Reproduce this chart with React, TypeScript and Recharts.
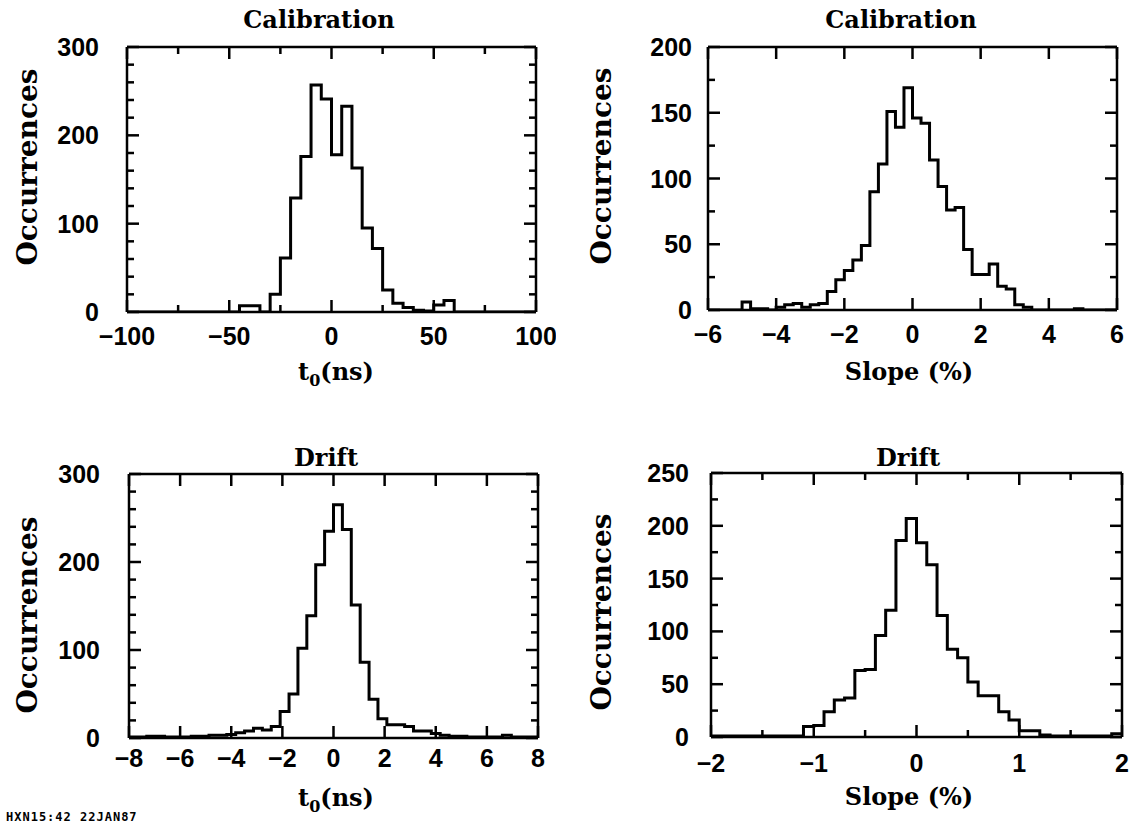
import React from 'react';
import { ComposedChart, Line, XAxis, YAxis } from 'recharts';

// counts per bin
const t0CalStart = -100;
const t0CalWidth = 5;
const t0CalCounts = [
  0, 0, 0, 0, 0, 0, 0, 0, 0, 0, 0, 7, 7, 0, 20, 61, 129, 176, 257, 241,
  178, 233, 163, 95, 72, 25, 10, 5, 2, 1, 8, 13, 0, 0, 0, 0, 0, 0, 0, 0,
];

const slopeCalStart = -6;
const slopeCalWidth = 0.25;
const slopeCalCounts = [
  0, 0, 0, 0, 6, 1, 1, 0, 2, 4, 5, 2, 4, 5, 14, 23, 30, 38, 49, 90, 111, 151, 139, 169,
  146, 142, 114, 94, 76, 78, 46, 27, 27, 35, 18, 16, 4, 2, 0, 0, 0, 0, 0, 1, 0, 0, 0, 0,
];

const t0DriftStart = -8;
const t0DriftWidth = 16 / 46;
const t0DriftCounts = [
  1, 1, 2, 2, 1, 1, 1, 2, 2, 3, 3, 4, 6, 8, 11, 9, 13, 30, 50, 102, 139, 197, 235,
  265, 237, 151, 86, 44, 22, 15, 15, 13, 8, 8, 5, 3, 2, 2, 1, 1, 1, 1, 3, 1, 1, 1,
];

const slopeDriftStart = -2;
const slopeDriftWidth = 0.1;
const slopeDriftCounts = [
  1, 1, 1, 1, 1, 1, 1, 1, 1, 10, 11, 24, 35, 37, 63, 64, 96, 120, 186, 207,
  184, 163, 115, 83, 75, 52, 39, 39, 24, 16, 6, 6, 2, 1, 1, 1, 1, 1, 1, 3,
];

// axis ticks
const t0CalMajor = [-100, -50, 0, 50, 100];
const t0CalMinor = [-75, -25, 25, 75];
const slopeCalMajor = [-6, -4, -2, 0, 2, 4, 6];
const t0DriftMajor = [-8, -6, -4, -2, 0, 2, 4, 6, 8];
const slopeDriftMajor = [-2, -1, 0, 1, 2];
const slopeDriftMinor = [-1.5, -0.5, 0.5, 1.5];

const y300Major = [0, 100, 200, 300];
const y300Minor = [20, 40, 60, 80, 120, 140, 160, 180, 220, 240, 260, 280];
const y200Major = [0, 50, 100, 150, 200];
const y200Minor = [25, 75, 125, 175];
const y250Major = [0, 50, 100, 150, 200, 250];
const y250Minor = [25, 75, 125, 175, 225];

const SERIF = '"DejaVu Serif", serif';
const SANS = '"Liberation Sans", Arial, sans-serif';

function stepPoints(start: number, width: number, counts: number[]) {
  const pts = counts.map((c, i) => ({ x: start + i * width, y: c }));
  pts.push({ x: start + counts.length * width, y: counts[counts.length - 1] });
  return pts;
}

const fmt = (v: number) => (v < 0 ? `\u2212${Math.abs(v)}` : `${v}`);

// text-only tick labels, drawn outside the frame
function labelTick(side: string, gap: number) {
  return (props: any) => {
    const { x, y, payload } = props;
    if (side === 'bottom') {
      return (
        <text x={x} y={y + gap} textAnchor="middle" fontFamily={SANS} fontWeight="bold" fontSize={25} fill="#000">
          {fmt(payload.value)}
        </text>
      );
    }
    return (
      <text x={x - gap} y={y + 9} textAnchor="end" fontFamily={SANS} fontWeight="bold" fontSize={25} fill="#000">
        {fmt(payload.value)}
      </text>
    );
  };
}
const noLabel = () => <g />;

const PADL = 130;
const PADT = 50;
const PADR = 20;
const PADB = 90;
const YW = 60;
const XH = 40;
const axisStyle = { stroke: '#000', strokeWidth: 2.5 };
const tickStyle = { stroke: '#000', strokeWidth: 2.5 };
const MAJOR = 12;
const MINOR = 6;

type PanelDef = {
  left: number; top: number; width: number; height: number;
  data: { x: number; y: number }[];
  xDomain: [number, number]; xMajor: number[]; xMinor: number[];
  yDomain: [number, number]; yMajor: number[]; yMinor: number[];
  xGap: number; yGap: number;
};

function Panel({ p }: { p: PanelDef }) {
  // inward tick marks on all four sides come from thin mirrored axes
  const xMarks: [string, 'top' | 'bottom', number[], number][] = [
    ['bM', 'bottom', p.xMajor, MAJOR],
    ['bm', 'bottom', p.xMinor, MINOR],
    ['tM', 'top', p.xMajor, MAJOR],
    ['tm', 'top', p.xMinor, MINOR],
  ];
  const yMarks: [string, 'left' | 'right', number[], number][] = [
    ['lM', 'left', p.yMajor, MAJOR],
    ['lm', 'left', p.yMinor, MINOR],
    ['rM', 'right', p.yMajor, MAJOR],
    ['rm', 'right', p.yMinor, MINOR],
  ];
  return (
    <div style={{ position: 'absolute', left: p.left - PADL, top: p.top - PADT }}>
      <ComposedChart
        width={p.width + PADL + PADR}
        height={p.height + PADT + PADB}
        data={p.data}
        margin={{ top: PADT, right: PADR, bottom: PADB - XH, left: PADL - YW }}
      >
        <XAxis xAxisId="b" dataKey="x" type="number" domain={p.xDomain} allowDataOverflow ticks={p.xMajor} interval={0}
          height={XH} tickSize={0} tickMargin={0} tickLine={false} axisLine={axisStyle}
          tick={labelTick('bottom', p.xGap)} />
        <YAxis yAxisId="l" dataKey="y" type="number" domain={p.yDomain} allowDataOverflow ticks={p.yMajor} interval={0}
          width={YW} tickSize={0} tickMargin={0} tickLine={false} axisLine={axisStyle}
          tick={labelTick('left', p.yGap)} />
        {xMarks.filter((m) => m[2].length > 0).map(([id, side, ticks, size]) => (
          <XAxis key={id} xAxisId={id} dataKey="x" orientation={side} mirror height={1} type="number" domain={p.xDomain}
            allowDataOverflow ticks={ticks} interval={0} tickSize={size} tickMargin={0} tick={noLabel}
            tickLine={tickStyle} axisLine={id === 'tM' ? axisStyle : false} />
        ))}
        {yMarks.filter((m) => m[2].length > 0).map(([id, side, ticks, size]) => (
          <YAxis key={id} yAxisId={id} dataKey="y" orientation={side} mirror width={1} type="number" domain={p.yDomain}
            allowDataOverflow ticks={ticks} interval={0} tickSize={size} tickMargin={0} tick={noLabel}
            tickLine={tickStyle} axisLine={id === 'rM' ? axisStyle : false} />
        ))}
        <Line xAxisId="b" yAxisId="l" dataKey="y" type="stepAfter" stroke="#000" strokeWidth={3}
          dot={false} isAnimationActive={false} strokeLinejoin="miter" />
      </ComposedChart>
    </div>
  );
}

const panels: PanelDef[] = [
  {
    left: 127, top: 47, width: 409, height: 265,
    data: stepPoints(t0CalStart, t0CalWidth, t0CalCounts),
    xDomain: [-100, 100], xMajor: t0CalMajor, xMinor: t0CalMinor,
    yDomain: [0, 300], yMajor: y300Major, yMinor: y300Minor,
    xGap: 33, yGap: 28,
  },
  {
    left: 708, top: 47, width: 409, height: 263,
    data: stepPoints(slopeCalStart, slopeCalWidth, slopeCalCounts),
    xDomain: [-6, 6], xMajor: slopeCalMajor, xMinor: [],
    yDomain: [0, 200], yMajor: y200Major, yMinor: y200Minor,
    xGap: 33, yGap: 16,
  },
  {
    left: 129, top: 474, width: 409, height: 264,
    data: stepPoints(t0DriftStart, t0DriftWidth, t0DriftCounts),
    xDomain: [-8, 8], xMajor: t0DriftMajor, xMinor: [],
    yDomain: [0, 300], yMajor: y300Major, yMinor: y300Minor,
    xGap: 29, yGap: 29,
  },
  {
    left: 711, top: 473, width: 411, height: 264,
    data: stepPoints(slopeDriftStart, slopeDriftWidth, slopeDriftCounts),
    xDomain: [-2, 2], xMajor: slopeDriftMajor, xMinor: slopeDriftMinor,
    yDomain: [0, 250], yMajor: y250Major, yMinor: y250Minor,
    xGap: 35, yGap: 22,
  },
];

const titles = [
  { text: 'Calibration', x: 319, y: 28 },
  { text: 'Calibration', x: 901, y: 28 },
  { text: 'Drift', x: 326, y: 466 },
  { text: 'Drift', x: 908, y: 466 },
];
const yLabels = [
  { x: 27, y: 167 },
  { x: 601, y: 166 },
  { x: 27, y: 615 },
  { x: 601, y: 612 },
];

function T0Label({ x, y }: { x: number; y: number }) {
  return (
    <text x={x} y={y} textAnchor="middle" fontFamily={SERIF} fontWeight="bold" fontSize={24} fill="#000">
      t<tspan fontSize={16} dy={6}>0</tspan><tspan dy={-6}>(ns)</tspan>
    </text>
  );
}

function SlopeLabel({ x, y }: { x: number; y: number }) {
  return (
    <text x={x} y={y} textAnchor="middle" fontFamily={SERIF} fontWeight="bold" fontSize={24} fill="#000">
      Slope (%)
    </text>
  );
}

export default function App() {
  return (
    <div style={{ position: 'relative', width: 1135, height: 824, background: '#fff', overflow: 'hidden' }}>
      <style>{'body{margin:0;background:#fff}'}</style>
      {panels.map((p, i) => (
        <Panel key={i} p={p} />
      ))}
      <svg width={1135} height={824} style={{ position: 'absolute', left: 0, top: 0, pointerEvents: 'none' }}>
        {titles.map((t, i) => (
          <text key={i} x={t.x} y={t.y} textAnchor="middle" fontFamily={SERIF} fontWeight="bold" fontSize={24} fill="#000">
            {t.text}
          </text>
        ))}
        {yLabels.map((l, i) => (
          <text key={i} x={l.x} y={l.y} transform={`rotate(-90 ${l.x} ${l.y})`} textAnchor="middle"
            dominantBaseline="central" fontFamily={SERIF} fontWeight="bold" fontSize={28} fill="#000">
            Occurrences
          </text>
        ))}
        <T0Label x={336} y={380} />
        <SlopeLabel x={909} y={380} />
        <T0Label x={336} y={806} />
        <SlopeLabel x={909} y={805} />
        <text x={6} y={821} fontFamily='"DejaVu Sans Mono", monospace' fontWeight="bold" fontSize={12}
          letterSpacing={1} fill="#000">
          HXN15:42  22JAN87
        </text>
      </svg>
    </div>
  );
}
